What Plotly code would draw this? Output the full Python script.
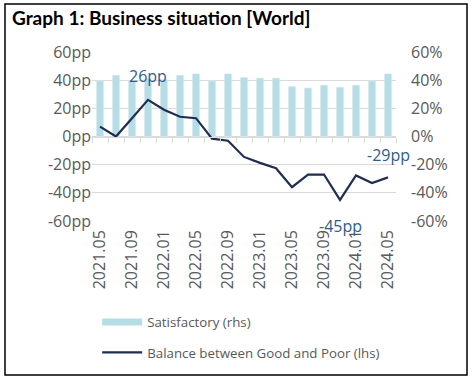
import plotly.graph_objects as go

periods = ["2021.05", "2021.07", "2021.09", "2021.11", "2022.01", "2022.03", "2022.05",
           "2022.07", "2022.09", "2022.11", "2023.01", "2023.03", "2023.05", "2023.07",
           "2023.09", "2023.11", "2024.01", "2024.03", "2024.05"]
satisfactory = [39.5, 43.5, 39.5, 41, 40.5, 43.5, 44.5, 39.5, 44.5, 42, 41.5, 41.5,
                35.5, 34.5, 36.5, 35, 36.5, 39.5, 44.5]
balance = [7, 0, 13, 26, 19, 14, 13, -1.5, -3, -14.5, -18.7, -22.5, -36, -27, -27,
           -45, -27.7, -33, -29]
tick_labels = periods[::2]
axis_ticks = [-60, -40, -20, 0, 20, 40, 60]
left_text = [f"{v}pp" for v in axis_ticks]
right_text = [f"{v}%" for v in axis_ticks]

GRAY = "#595959"
GRID = "#D9D9D9"
BAR = "#B4DDE6"
LINE = "#1F2D50"
ANN = "#2E5C8A"
FONT = "Open Sans"

fig = go.Figure()
fig.add_trace(go.Bar(x=periods, y=satisfactory, marker_color=BAR, showlegend=False,
                     xaxis="x", yaxis="y"))
fig.add_trace(go.Scatter(x=[None], y=[None], mode="lines", line=dict(color=BAR, width=7),
                         name="Satisfactory (rhs)", legend="legend"))
fig.add_trace(go.Scatter(x=list(range(len(balance))), y=balance, mode="lines",
                         line=dict(color=LINE, width=2.2),
                         name="Balance between Good and Poor (lhs)",
                         xaxis="x2", yaxis="y", legend="legend2"))
fig.add_trace(go.Scatter(x=[None], y=[None], yaxis="y2", showlegend=False, hoverinfo="skip"))

# annotations anchored to data points
ann = [(3, "26pp", 24), (15, "-45pp", -26), (18, "-29pp", 22)]
for i, txt, ys in ann:
    fig.add_annotation(x=i, y=balance[i], xref="x2", yref="y", text=txt, showarrow=False,
                       yshift=ys, font=dict(family=FONT, size=16, color=ANN))

fig.update_layout(
    width=473, height=381,
    margin=dict(l=92, r=77, t=52, b=160, autoexpand=False),
    paper_bgcolor="white", plot_bgcolor="white",
    bargap=0.55,
    font=dict(family=FONT, color=GRAY, size=16),
    xaxis=dict(type="category", categoryorder="array", categoryarray=periods,
               tickvals=tick_labels, ticktext=tick_labels, tickangle=-90,
               showgrid=False, showline=False, ticks="", range=[-0.5, len(periods) - 0.5],
               tickfont=dict(size=16, color=GRAY), automargin=False, ticklabelstandoff=5),
    xaxis2=dict(overlaying="x", anchor="free", position=0.5, range=[-0.5, len(periods) - 0.5],
                tick0=-0.5, dtick=1, ticks="outside", ticklen=5, tickcolor=GRID,
                showline=True, linecolor=GRID, linewidth=1, showticklabels=False,
                showgrid=False, zeroline=False),
    yaxis=dict(range=[-60, 60], tickvals=axis_ticks, ticktext=left_text, showgrid=True,
               gridcolor=GRID, zeroline=False, ticks="", tickfont=dict(size=16, color=GRAY),
               automargin=False),
    yaxis2=dict(overlaying="y", side="right", range=[-60, 60], tickvals=axis_ticks,
                ticktext=right_text, showgrid=False, zeroline=False, anchor="x",
                tickfont=dict(size=16, color=GRAY), automargin=False, ticklabelstandoff=14),
    legend=dict(x=0.017, y=-0.6, xanchor="left", yanchor="middle", bgcolor="rgba(0,0,0,0)",
                font=dict(family=FONT, size=13.3, color=GRAY), itemwidth=40),
    legend2=dict(x=0.017, y=-0.78, xanchor="left", yanchor="middle", bgcolor="rgba(0,0,0,0)",
                 font=dict(family=FONT, size=13.3, color=GRAY), itemwidth=40),
    title=dict(text="<b>Graph 1: Business situation [World]</b>", x=12 / 473, xanchor="left",
               y=1 - 18 / 381, yanchor="middle",
               font=dict(family="Lato", size=19, color="black")),
    shapes=[dict(type="rect", xref="paper", yref="paper",
                 x0=(5 - 92) / 304, x1=(467 - 92) / 304,
                 y0=(221 - 375) / 169, y1=(221 - 4) / 169,
                 line=dict(color="black", width=1.5), fillcolor="rgba(0,0,0,0)", layer="below")],
)

fig.write_html("out.html", config={"displayModeBar": False},
               post_script="document.body.style.margin='0';")
